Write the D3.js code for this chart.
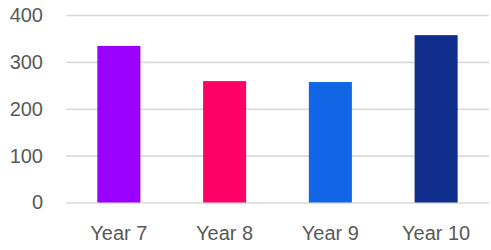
<!DOCTYPE html>
<html><head><meta charset="utf-8">
<script src="https://cdn.jsdelivr.net/npm/d3@7"></script>
<style>body{margin:0;background:#fff}svg{display:block}</style>
</head><body>
<svg id="c" width="491" height="250"></svg>
<script>
const categories = ["Year 7", "Year 8", "Year 9", "Year 10"];
const values = [334, 259, 257, 357];
const colors = ["#9900FF", "#FF0066", "#1066E4", "#0F2E8C"];
const yTicks = [0, 100, 200, 300, 400];

const svg = d3.select("#c");
const m = {left: 66, right: 2, top: 15, bottom: 47.5};
const W = 491, H = 250;
const x = d3.scaleBand().domain(categories).range([m.left, W - m.right]).paddingInner(0.593).paddingOuter(0.2965);
const y = d3.scaleLinear().domain([0, 400]).range([H - m.bottom, m.top]);
const font = "'Liberation Sans', Arial, sans-serif";

const yAxis = svg.append("g").attr("transform", `translate(${m.left},0)`)
  .call(d3.axisLeft(y).tickValues(yTicks).tickSize(-(W - m.right - m.left)).tickPadding(23));
yAxis.select(".domain").remove();
yAxis.selectAll(".tick line").attr("stroke", "#d9d9d9").attr("stroke-width", 1.6);
yAxis.selectAll(".tick text").attr("fill", "#595959").attr("font-size", 20).attr("font-family", font);

svg.append("g").selectAll("rect").data(values).join("rect")
  .attr("x", (d, i) => x(categories[i]))
  .attr("width", x.bandwidth())
  .attr("y", d => y(d))
  .attr("height", d => y(0) - y(d))
  .attr("fill", (d, i) => colors[i]);

const xAxis = svg.append("g").attr("transform", `translate(0,${H - m.bottom})`)
  .call(d3.axisBottom(x).tickSize(0).tickPadding(23));
xAxis.select(".domain").remove();
xAxis.selectAll(".tick text").attr("fill", "#595959").attr("font-size", 20).attr("font-family", font);
</script>
</body></html>
